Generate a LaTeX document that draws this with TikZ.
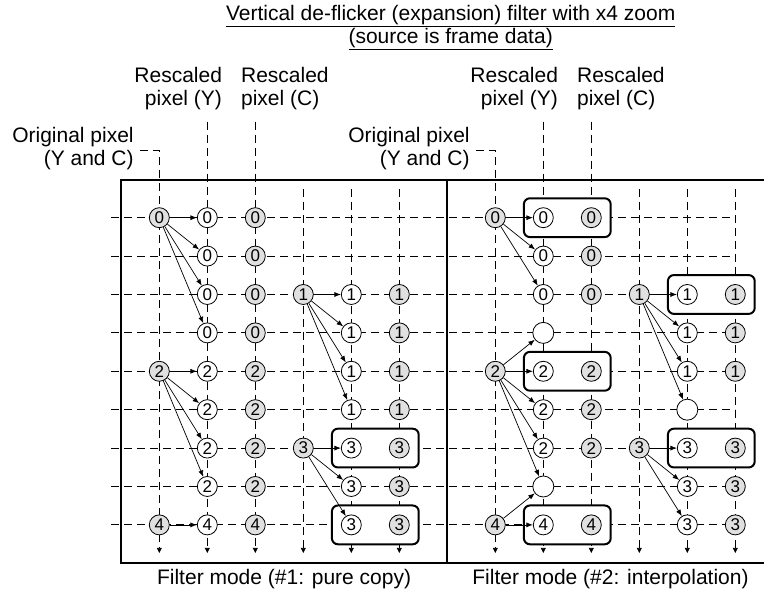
\documentclass[tikz,border=0pt]{standalone}
\usepackage{fontspec}
\setmainfont{Liberation Sans}
\usepackage{tikz}
\usetikzlibrary{arrows.meta,positioning,fit,backgrounds}
\definecolor{pxgray}{gray}{0.88}
\tikzset{
  gridln/.style={dash pattern=on 8pt off 5pt,line width=0.8pt},
  colln/.style={gridln,-{Triangle[length=5pt,width=5pt]}},
  panelfr/.style={line width=2pt},
  pxbase/.style={circle,draw,line width=0.8pt,minimum size=20pt,inner sep=0pt,font=\fontsize{17}{17}\selectfont},
  origpx/.style={pxbase,fill=pxgray},
  ypx/.style={pxbase,fill=white},
  cpx/.style={pxbase,fill=pxgray},
  gappx/.style={pxbase,fill=white,minimum size=21pt},
  pairbox/.style={draw,line width=2pt,rounded corners=6pt,fill=white,inner sep=9pt},
  cp/.style={-{Latex[length=6.5pt,width=5pt]},line width=0.7pt},
  tlab/.style={font=\fontsize{21}{23}\selectfont,inner sep=0pt},
}
\begin{document}
\begin{tikzpicture}[x=48pt,y=-38.4pt]
        \useasboundingbox (-3.319,-5.669) rectangle (12.598,9.799);
        \node[tlab,align=center] (title) at (6.07,-4.94) {\underline{Vertical de-flicker (expansion) filter with x4 zoom}\\\underline{(source is frame data)}};
        % sarlavhalar
        \node[tlab,align=right,anchor=east] (orgA) at (-0.53,-1.80) {Original pixel\\(Y and C)};
        \node[tlab,align=right,anchor=east] (ryA) at (1.31,-3.36) {Rescaled\\pixel (Y)};
        \node[tlab,align=left,anchor=west] (rcA) at (1.70,-3.36) {Rescaled\\pixel (C)};
        \node[tlab,align=right,anchor=east] (orgB) at (6.47,-1.80) {Original pixel\\(Y and C)};
        \node[tlab,align=right,anchor=east] (ryB) at (8.31,-3.36) {Rescaled\\pixel (Y)};
        \node[tlab,align=left,anchor=west] (rcB) at (8.70,-3.36) {Rescaled\\pixel (C)};
        \node[tlab] (capA) at (2.6,9.4) {Filter mode (\#1: pure copy)};
        \node[tlab] (capB) at (9.4,9.4) {Filter mode (\#2: interpolation)};
        % piksellar
        \foreach \c/\r/\n in {0/0/0,0/4/2,0/8/4,3/2/1,3/6/3,7/0/0,7/4/2,7/8/4,10/2/1,10/6/3}
          \node[origpx] (p-\c-\r) at (\c,\r) {\n};
        \foreach \r/\n in {0/0,1/0,2/0,3/0,4/2,5/2,6/2,7/2,8/4}{%
          \node[ypx] (p-1-\r) at (1,\r) {\n}; \node[cpx] (p-2-\r) at (2,\r) {\n};}
        \foreach \r/\n in {2/1,3/1,4/1,5/1,6/3,7/3,8/3}{%
          \node[ypx] (p-4-\r) at (4,\r) {\n}; \node[cpx] (p-5-\r) at (5,\r) {\n};}
        \foreach \r/\n in {0/0,1/0,2/0,4/2,5/2,6/2,8/4}{%
          \node[ypx] (p-8-\r) at (8,\r) {\n}; \node[cpx] (p-9-\r) at (9,\r) {\n};}
        \foreach \r/\n in {2/1,3/1,4/1,6/3,7/3,8/3}{%
          \node[ypx] (p-11-\r) at (11,\r) {\n}; \node[cpx] (p-12-\r) at (12,\r) {\n};}
        \foreach \c/\r in {8/3,8/7,11/5}
          \node[gappx] (p-\c-\r) at (\c,\r) {};
        % nusxalash
        \foreach \s/\t in {0-0/1-0,0-0/1-1,0-0/1-2,0-0/1-3,0-4/1-4,0-4/1-5,0-4/1-6,0-4/1-7,0-8/1-8,
            3-2/4-2,3-2/4-3,3-2/4-4,3-2/4-5,3-6/4-6,3-6/4-7,3-6/4-8,
            7-0/8-0,7-0/8-1,7-0/8-2,7-4/8-3,7-4/8-4,7-4/8-5,7-4/8-6,7-4/8-7,7-8/8-7,7-8/8-8,
            10-2/11-2,10-2/11-3,10-2/11-4,10-2/11-5,10-6/11-6,10-6/11-7,10-6/11-8}
          \draw[cp] (p-\s) -- (p-\t);
        % ramka
        \draw[panelfr] (-0.8,-0.98) rectangle (12.8,9);
        \draw[panelfr] (6,-0.98) -- (6,9);
        \begin{scope}[on background layer]
          \foreach \r in {0,...,8} \draw[gridln] (-1,\r) -- (12,\r);
          \foreach \c in {3,4,5,10,11,12} \draw[colln] (\c,-0.75) -- (\c,8.73);
          \foreach \c in {1,2,8,9} \draw[colln] (\c,-2.5) -- (\c,8.73);
          \foreach \c in {0,7} \draw[colln] (\c-0.4,-1.76) -| (\c,8.73);
          \foreach \a/\b in {4-6/5-6,4-8/5-8,8-0/9-0,11-2/12-2,8-4/9-4,11-6/12-6,8-8/9-8}
            \node[pairbox,fit=(p-\a)(p-\b)] (box-\a) {};
        \end{scope}
      \end{tikzpicture}
\end{document}
